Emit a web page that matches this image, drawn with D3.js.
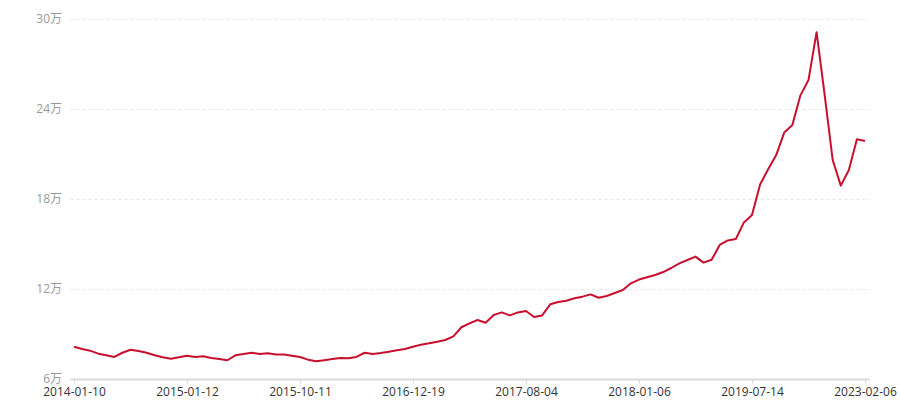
<!DOCTYPE html>
<html>
<head>
<meta charset="utf-8">
<script src="https://cdn.jsdelivr.net/npm/d3@7/dist/d3.min.js"></script>
<style>
  html, body { margin: 0; padding: 0; background: #fff; }
  svg { display: block; }
  text { font-family: "Open Sans", "Noto Sans CJK SC", sans-serif; }
</style>
</head>
<body>
<svg id="chart" width="900" height="400"></svg>
<script>
// ---- data ----
const categories = [
  "2014-01-10","2014-02-05","2014-03-03","2014-03-29","2014-04-24","2014-05-20","2014-06-15","2014-07-11",
  "2014-08-06","2014-09-01","2014-09-27","2014-10-23","2014-11-18","2014-12-14","2015-01-12","2015-01-31",
  "2015-02-19","2015-03-10","2015-03-30","2015-04-18","2015-05-07","2015-05-27","2015-06-15","2015-07-04",
  "2015-07-24","2015-08-12","2015-08-31","2015-09-21","2015-10-11","2015-11-11","2015-12-12","2016-01-12",
  "2016-02-12","2016-03-14","2016-04-14","2016-05-15","2016-06-15","2016-07-16","2016-08-16","2016-09-16",
  "2016-10-17","2016-11-17","2016-12-19","2017-01-04","2017-01-20","2017-02-06","2017-02-22","2017-03-10",
  "2017-03-27","2017-04-12","2017-04-28","2017-05-15","2017-05-31","2017-06-16","2017-07-02","2017-07-19",
  "2017-08-04","2017-08-15","2017-08-26","2017-09-06","2017-09-17","2017-09-28","2017-10-09","2017-10-20",
  "2017-10-31","2017-11-11","2017-11-22","2017-12-03","2017-12-14","2017-12-25","2018-01-06","2018-02-14",
  "2018-03-26","2018-05-05","2018-06-14","2018-07-24","2018-09-01","2018-10-11","2018-11-20","2018-12-30",
  "2019-02-08","2019-03-20","2019-04-29","2019-06-05","2019-07-14","2019-10-15","2020-01-16","2020-04-18",
  "2020-07-20","2020-10-21","2021-01-22","2021-04-25","2021-07-27","2021-10-28","2022-01-29","2022-05-02",
  "2022-08-03","2022-11-04","2023-02-06"
];
// values in 万
const values = [
  8.15, 8.00, 7.89, 7.69, 7.58, 7.47, 7.75, 7.95, 7.87, 7.75, 7.58, 7.45, 7.35, 7.45, 7.55, 7.47,
  7.51, 7.40, 7.33, 7.25, 7.58, 7.67, 7.75, 7.67, 7.71, 7.64, 7.64, 7.55, 7.47, 7.29, 7.18, 7.25,
  7.33, 7.40, 7.38, 7.47, 7.75, 7.67, 7.73, 7.82, 7.91, 8.00, 8.15, 8.29, 8.38, 8.49, 8.60, 8.84,
  9.45, 9.71, 9.93, 9.75, 10.27, 10.44, 10.24, 10.44, 10.53, 10.13, 10.24, 10.98, 11.13, 11.22,
  11.38, 11.49, 11.64, 11.42, 11.53, 11.73, 11.93, 12.38, 12.63, 12.78, 12.93, 13.13, 13.40, 13.71,
  13.93, 14.16, 13.76, 13.95, 14.94, 15.24, 15.33, 16.44, 16.93, 18.97, 19.98, 20.93, 22.44, 22.93,
  24.91, 25.93, 29.12, 24.95, 20.60, 18.89, 19.93, 21.98, 21.87
];
const yTicks = [6, 12, 18, 24, 30];
const xTickLabels = ["2014-01-10","2015-01-12","2015-10-11","2016-12-19","2017-08-04","2018-01-06","2019-07-14","2023-02-06"];

// ---- layout ----
const svg = d3.select("#chart");
const gridLeft = 70.5, gridRight = 869.5;
const x = d3.scalePoint().domain(categories).range([74, 865]);
const y = d3.scaleLinear().domain([6, 30]).range([379, 19]);

// grid lines
svg.append("g").selectAll("line")
  .data(yTicks.filter(t => t !== 6))
  .join("line")
  .attr("x1", gridLeft).attr("x2", gridRight)
  .attr("y1", d => Math.round(y(d)) + 0.5).attr("y2", d => Math.round(y(d)) + 0.5)
  .attr("stroke", "#e6e6e6").attr("stroke-width", 1)
  .attr("stroke-dasharray", "3,3");

// y labels
svg.append("g").selectAll("text")
  .data(yTicks)
  .join("text")
  .attr("x", 62).attr("y", d => y(d))
  .attr("dy", "0.35em")
  .attr("text-anchor", "end")
  .attr("fill", "#999")
  .attr("font-size", 12)
  .text(d => d + "万");

// x axis
const xAxis = d3.axisBottom(x)
  .tickValues(xTickLabels)
  .tickSize(4)
  .tickPadding(4)
  .tickSizeOuter(0);
const gx = svg.append("g").attr("transform", "translate(0,379.5)").call(xAxis);
gx.select(".domain").remove();
gx.insert("line", ":first-child")
  .attr("x1", gridLeft).attr("x2", gridRight)
  .attr("y1", 0).attr("y2", 0)
  .attr("stroke", "#d9d9d9").attr("stroke-width", 2);
gx.selectAll(".tick line").attr("stroke", "#d9d9d9").attr("stroke-width", 1);
gx.selectAll(".tick text")
  .attr("fill", "#333")
  .attr("font-size", 12)
  .style("font-family", "'Open Sans', 'Noto Sans CJK SC', sans-serif");

// line
const line = d3.line()
  .x((d, i) => x(categories[i]))
  .y(d => y(d));
svg.append("path")
  .datum(values)
  .attr("d", line)
  .attr("fill", "none")
  .attr("stroke", "#c8102e")
  .attr("stroke-width", 2)
  .attr("stroke-linejoin", "round");
</script>
</body>
</html>
